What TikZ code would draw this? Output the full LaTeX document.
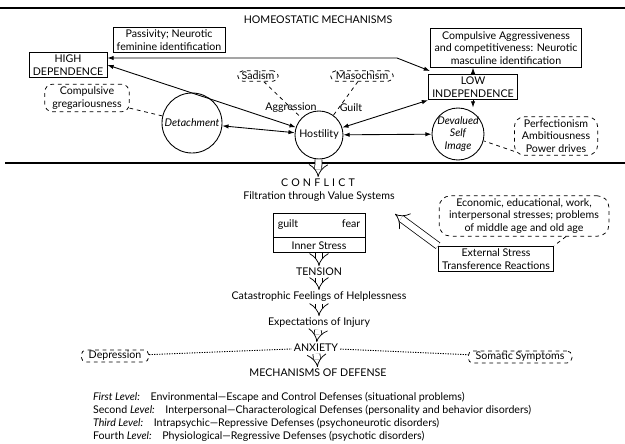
\documentclass[tikz,border=0pt]{standalone}
\usepackage{fontspec}
\setmainfont{Lato}
\usetikzlibrary{arrows.meta, positioning}

\begin{document}
\begin{tikzpicture}[
        x=0.8pt, y=-0.8pt,
        every node/.style={font=\fontsize{8.5}{10.2}\selectfont, inner sep=1.5pt},
        slant/.style={font=\fontsize{8.5}{10.2}\selectfont\itshape},
        box/.style={rectangle, draw, line width=0.7pt, align=center, inner xsep=3pt, inner ysep=2pt},
        soft/.style={rectangle, draw, dashed, line width=0.6pt, rounded corners=6pt, align=center, inner xsep=6pt, inner ysep=2pt},
        ring/.style={circle, draw, line width=0.7pt, inner sep=0pt, align=center},
        arrow/.style={{Latex[length=5pt,width=3.5pt]}-{Latex[length=5pt,width=3.5pt]}, line width=0.7pt},
        onearrow/.style={-{Latex[length=5pt,width=3.5pt]}, line width=0.7pt},
        link/.style={dashed, line width=0.6pt},
        dots/.style={dash pattern=on 1pt off 1pt, line width=0.7pt},
        hollow/.style={double, double distance=5pt, line width=0.6pt, -{Implies[length=4pt, width=12pt]}},
        rule/.style={line width=1.4pt}
    ]
    \useasboundingbox (0,0) rectangle (625,444);

    % Separators
    \draw[rule] (0,8) -- (625,8);
    \draw[rule] (5,163) -- (625,163);

    % Homeostatic mechanisms
    \node (homeo) at (318,20) {HOMEOSTATIC MECHANISMS};
    \node[box] (passive) at (169,40) {Passivity; Neurotic\\feminine identification};
    \node[box] (highdep) at (68,65) {HIGH\\DEPENDENCE};
    \node[soft] (gregar) at (87,98) {Compulsive\\gregariousness};
    \node[ring, slant, minimum size=48pt] (detach) at (192,123) {Detachment};
    \node[ring, minimum size=38.4pt] (hostil) at (319,135) {Hostility};
    \node[soft, rounded corners=4pt, inner xsep=3pt, inner ysep=1pt] (sadism) at (258,76) {Sadism};
    \node[soft, rounded corners=4pt, inner xsep=4pt, inner ysep=1pt] (masoch) at (362,76) {Masochism};
    \node (aggr) at (291,108) {Aggression};
    \node (guilt) at (351,108) {Guilt};
    \node[box] (compuls) at (506,48) {Compulsive Aggressiveness\\and competitiveness: Neurotic\\masculine identification};
    \node[box] (lowind) at (473,87) {LOW\\INDEPENDENCE};
    \node[ring, slant, minimum size=41.6pt, inner sep=-3pt] (deval) at (458,134) {Devalued\\Self\\Image};
    \node[soft, rounded corners=8pt] (perfect) at (556,136) {Perfectionism\\Ambitiousness\\Power drives};

    % Conflict
    \node (conflict) at (318,183) {\addfontfeatures{LetterSpace=30}CONFLICT};
    \node (filter) at (319,197) {Filtration through Value Systems};
    \node[box, minimum width=73.6pt, minimum height=19.2pt, text width=66pt, align=left] (fears) at (319,225) {guilt\hfill fear};
    \node[box, minimum width=73.6pt, minimum height=12pt, inner ysep=1pt, below=0pt of fears] (inner) {Inner Stress};

    % External stress
    \node[soft, rounded corners=9pt, inner xsep=8pt] (econ) at (524,216) {Economic, educational, work,\\interpersonal stresses; problems\\of middle age and old age};
    \node[box] (extern) at (496,259) {External Stress\\Transference Reactions};
    \coordinate (exttip) at (395,214);

    % Chain down to defense
    \node (tension) at (319,272) {TENSION};
    \node (catast) at (319,297) {Catastrophic Feelings of Helplessness};
    \node (expect) at (319,323) {Expectations of Injury};
    \node (anxiety) at (316,348) {ANXIETY};
    \node (defense) at (318,373) {MECHANISMS OF DEFENSE};
    \node[soft, rounded corners=4pt, inner ysep=1pt] (depress) at (115,356) {Depression};
    \node[soft, rounded corners=4pt, inner ysep=1pt] (somatic) at (520,357) {Somatic Symptoms};

    % Levels
    \node[anchor=west] (lev1) at (91,397) {\textit{First Level:}\quad Environmental---Escape and Control Defenses (situational problems)};
    \node[anchor=west] (lev2) at (91,410) {Second \textit{Level:}\quad Interpersonal---Characterological Defenses (personality and behavior disorders)};
    \node[anchor=west] (lev3) at (91,423) {\textit{Third Level:}\quad Intrapsychic---Repressive Defenses (psychoneurotic disorders)};
    \node[anchor=west] (lev4) at (91,436) {Fourth \textit{Level:}\quad Physiological---Regressive Defenses (psychotic disorders)};

    % Arrows
    \coordinate (bend) at (397,58);
    \coordinate (osc) at (430,71);
    \draw[arrow] (hostil) -- (highdep.east);
    \draw[arrow] (highdep.east |- bend) -- (bend) -- (osc);
    \draw[onearrow] (lowind.north) -- (lowind.north |- compuls.south);
    \draw[onearrow] (lowind.south) -- (lowind.south |- deval.north);
    \draw[arrow] (detach) -- (hostil);
    \draw[arrow] (hostil) -- (deval);
    \draw[arrow] (hostil) -- (lowind.south west);
    \draw[link] (sadism) -- (hostil);
    \draw[link] (masoch) -- (hostil);
    \draw[link] (gregar) -- (detach);
    \draw[link] (perfect.200) -- (deval.-15);
    \draw[link] (econ.-26) -- (extern.north east);

    % Hollow arrows
    \draw[hollow] (hostil) -- (conflict);
    \draw[hollow] (inner) -- (tension);
    \draw[hollow] (tension) -- (catast);
    \draw[hollow] (catast) -- (expect);
    \draw[hollow] (expect) -- (anxiety);
    \draw[hollow] (anxiety) -- (defense);
    \draw[hollow, -{Implies[length=5pt, width=14pt]}] (extern.north west) -- (exttip);

    % Side symptoms
    \draw[dots] (depress) -- (anxiety);
    \draw[dots] (anxiety) -- (somatic);

    \end{tikzpicture}
\end{document}
